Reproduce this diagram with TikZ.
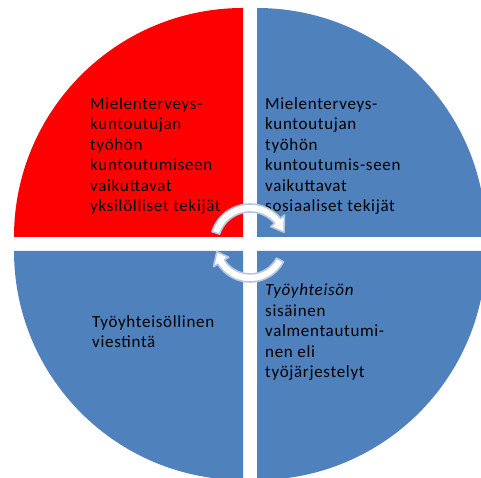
\documentclass[tikz,border=0pt]{standalone}
\usepackage{fontspec}
\setmainfont{Carlito}[LetterSpace=4]
\definecolor{qblue}{RGB}{79,129,189}
\definecolor{qred}{RGB}{255,0,0}
\definecolor{arrline}{RGB}{182,199,225}
\begin{document}
\begin{tikzpicture}[x=1pt,y=1pt,
  quad/.style={draw=none},
  qtext/.style={anchor=base west,inner sep=0pt,align=left,text=black,
    font=\fontsize{17}{20.5}\selectfont},
  cyclearrow/.style={fill=white,draw=arrline,line width=1.6pt,line join=round}]
\useasboundingbox (0,0) rectangle (481,478);
\clip (0,0) rectangle (481,478);
% quadrants
\fill[qred,quad] (243,241) -- ++(-229,0) arc[start angle=180,end angle=90,radius=229] -- cycle;
\fill[qblue,quad] (257,241) -- ++(0,229) arc[start angle=90,end angle=0,radius=229] -- cycle;
\fill[qblue,quad] (243,227) -- ++(-229,0) arc[start angle=180,end angle=270,radius=229] -- cycle;
\fill[qblue,quad] (257,227) -- ++(229,0) arc[start angle=0,end angle=-90,radius=229] -- cycle;
% texts (anchored at the baseline of their last line)
\node[qtext] (tl) at (90,266) {Mielenterveys-\\kuntoutujan\\työhön\\kuntoutumiseen\\vaikuttavat\\yksilölliset tekijät};
\node[qtext] (tr) at (265,266) {Mielenterveys-\\kuntoutujan\\työhön\\kuntoutumis-seen\\vaikuttavat\\sosiaaliset tekijät};
\node[qtext] (bl) at (92,130) {Työyhteisöllinen\\viestintä};
\node[qtext] (br) at (265,100) {\textit{Työyhteisön}\\sisäinen\\valmentautumi-\\nen eli\\työjärjestelyt};
% circular arrows
\begin{scope}[shift={(250,234)}]
\draw[cyclearrow] (162:40) arc[start angle=162,end angle=40,radius=40]
  -- (40:45) -- (19:36) -- (40:27) -- (40:32)
  arc[start angle=40,end angle=162,radius=32] -- cycle;
\draw[cyclearrow] (-28:38) arc[start angle=-28,end angle=-148,radius=38]
  -- (-148:43) -- (-167:34) -- (-148:25) -- (-148:30)
  arc[start angle=-148,end angle=-28,radius=30] -- cycle;
\end{scope}
\end{tikzpicture}
\end{document}
